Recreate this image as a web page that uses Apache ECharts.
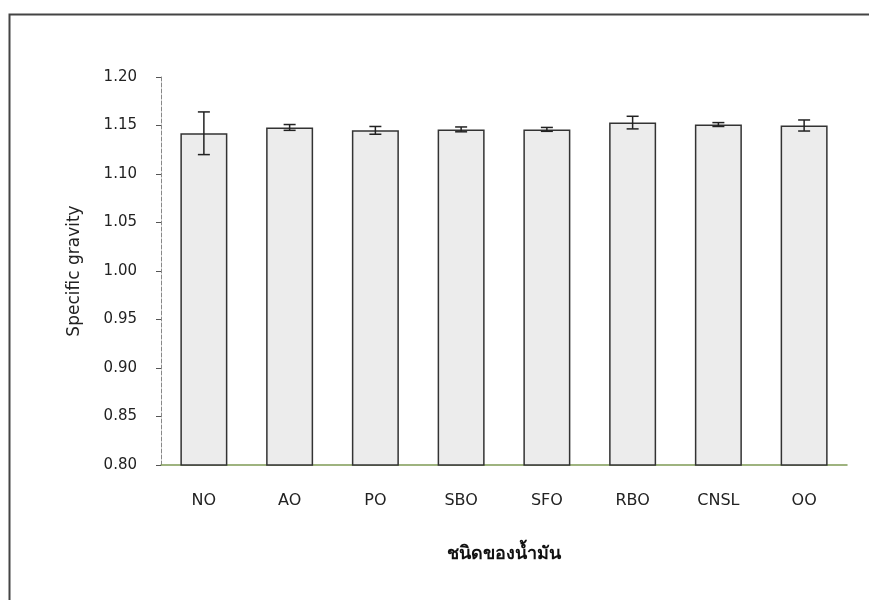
<!DOCTYPE html>
<html>
<head>
<meta charset="utf-8">
<script src="https://cdn.jsdelivr.net/npm/echarts@6/dist/echarts.min.js"></script>
<style>
  html, body { margin: 0; padding: 0; background: #fff; }
  #chart { width: 869px; height: 600px; }
</style>
</head>
<body>
<div id="chart"></div>
<script>
const categories = ['NO', 'AO', 'PO', 'SBO', 'SFO', 'RBO', 'CNSL', 'OO'];
const gravity = [1.142, 1.148, 1.145, 1.146, 1.146, 1.153, 1.151, 1.150];
const errors = [0.022, 0.003, 0.004, 0.0025, 0.002, 0.0065, 0.002, 0.0057];

const chart = echarts.init(document.getElementById('chart'));

const errData = categories.map((c, i) => [i, gravity[i] - errors[i], gravity[i] + errors[i]]);

chart.setOption({
  backgroundColor: '#fff',
  animation: false,
  textStyle: { fontFamily: '"DejaVu Sans", "Noto Sans", sans-serif' },
  graphic: [
    {
      type: 'rect',
      shape: { x: 9.5, y: 14.5, width: 900, height: 700 },
      style: { fill: 'none', stroke: '#444', lineWidth: 2 }
    }
  ],
  grid: { left: 161, right: 22, top: 77, bottom: 135 },
  xAxis: {
    type: 'category',
    data: categories,
    name: 'ชนิดของน้ำมัน',
    nameLocation: 'middle',
    nameGap: 80,
    nameTextStyle: { fontSize: 18, fontWeight: 'bold', color: '#111' },
    axisLine: { lineStyle: { color: '#7f9a55', width: 1.5 } },
    axisTick: { show: false },
    axisLabel: { fontSize: 16, color: '#222', margin: 28 }
  },
  yAxis: {
    type: 'value',
    min: 0.8,
    max: 1.2,
    interval: 0.05,
    name: 'Specific gravity',
    nameLocation: 'middle',
    nameGap: 78,
    nameTextStyle: { fontSize: 17, color: '#222' },
    splitLine: { show: false },
    axisLine: { show: true, lineStyle: { color: '#888', type: 'dashed', width: 1 } },
    axisTick: { show: true, length: 5, lineStyle: { color: '#555' } },
    axisLabel: {
      fontSize: 15,
      color: '#222',
      margin: 24,
      formatter: v => v.toFixed(2)
    }
  },
  series: [
    {
      type: 'bar',
      data: gravity,
      barWidth: 47,
      itemStyle: { color: '#ececec', borderColor: '#333', borderWidth: 1.5 }
    },
    {
      type: 'custom',
      data: errData,
      z: 10,
      renderItem: (params, api) => {
        const x = api.value(0);
        const lo = api.coord([x, api.value(1)]);
        const hi = api.coord([x, api.value(2)]);
        const hw = 6;
        const style = { stroke: '#222', lineWidth: 1.5, fill: null };
        return {
          type: 'group',
          children: [
            { type: 'line', shape: { x1: lo[0], y1: lo[1], x2: hi[0], y2: hi[1] }, style },
            { type: 'line', shape: { x1: hi[0] - hw, y1: hi[1], x2: hi[0] + hw, y2: hi[1] }, style },
            { type: 'line', shape: { x1: lo[0] - hw, y1: lo[1], x2: lo[0] + hw, y2: lo[1] }, style }
          ]
        };
      }
    }
  ]
});
</script>
</body>
</html>
